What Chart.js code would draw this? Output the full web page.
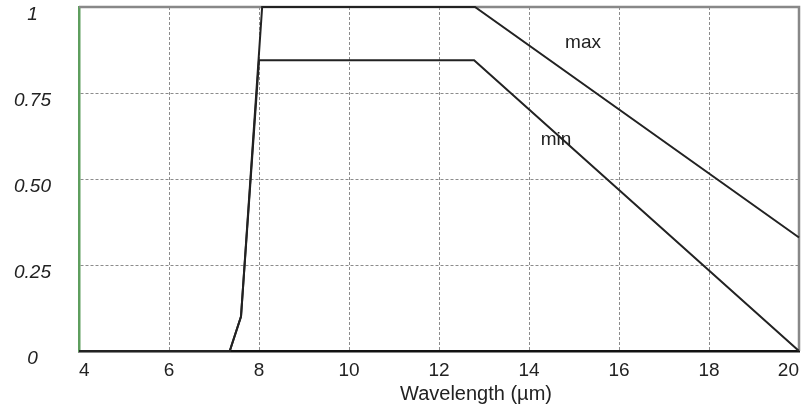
<!DOCTYPE html>
<html>
<head>
<meta charset="utf-8">
<script src="https://cdn.jsdelivr.net/npm/chart.js@4/dist/chart.umd.min.js"></script>
<style>
  html, body { margin: 0; padding: 0; background: #fff; }
  #wrap { width: 807px; height: 409px; }
</style>
</head>
<body>
<div id="wrap"><canvas id="specChart"></canvas></div>
<script>
// response curves (wavelength in µm, relative response)
const maxWave = [4, 7.35, 7.6, 8.07, 12.8, 20];
const maxResp = [0, 0, 0.1, 1, 1, 0.33];
const minWave = [4, 7.35, 7.6, 8.0, 12.78, 20];
const minResp = [0, 0, 0.1, 0.845, 0.845, 0];

const yTicks = [0, 0.25, 0.5, 0.75, 1];
const yTickText = ['0', '0.25', '0.50', '0.75', '1'];

// curve names written next to the lines
const curveNames = ['max', 'min'];
const curveNameAt = [[15.2, 0.895], [14.6, 0.613]];

const xTitle = 'Wavelength (µm)';

const TEXT = '#222';
const FONT = 'Liberation Sans, Arial, sans-serif';

function toPoints(xs, ys) {
    return xs.map((x, i) => ({ x: x, y: ys[i] }));
}

// top and right edges of the plot box, under the curves
const framePlugin = {
    id: 'frame',
    beforeDatasetsDraw(chart) {
        const { ctx, chartArea: a } = chart;
        ctx.save();
        ctx.strokeStyle = '#888';
        ctx.lineWidth = 2.5;
        ctx.beginPath();
        ctx.moveTo(a.left, a.top);
        ctx.lineTo(a.right, a.top);
        ctx.lineTo(a.right, a.bottom);
        ctx.stroke();
        ctx.restore();
    }
};

// curve names plus the x axis title (sits a bit right of centre)
const textPlugin = {
    id: 'curveNames',
    afterDatasetsDraw(chart) {
        const { ctx, scales, chartArea: a } = chart;
        ctx.save();
        ctx.fillStyle = TEXT;
        ctx.font = '19px ' + FONT;
        ctx.textAlign = 'center';
        ctx.textBaseline = 'middle';
        curveNames.forEach((name, i) => {
            const [wx, wy] = curveNameAt[i];
            ctx.fillText(name, scales.x.getPixelForValue(wx), scales.y.getPixelForValue(wy));
        });
        ctx.font = '20px ' + FONT;
        ctx.fillText(xTitle, (a.left + a.right) / 2 + 37, 394);
        ctx.restore();
    }
};

const edgeGrid = (lo, hi) => (c) =>
    (c.tick && (c.tick.value === lo || c.tick.value === hi)) ? 'rgba(0,0,0,0)' : '#8c8c8c';

new Chart(document.getElementById('specChart'), {
    type: 'line',
    data: {
        datasets: [
            {
                label: 'max',
                data: toPoints(maxWave, maxResp),
                borderColor: TEXT,
                borderWidth: 2,
                pointRadius: 0,
                tension: 0,
                clip: false
            },
            {
                label: 'min',
                data: toPoints(minWave, minResp),
                borderColor: TEXT,
                borderWidth: 2,
                pointRadius: 0,
                tension: 0,
                clip: false
            }
        ]
    },
    options: {
        responsive: true,
        maintainAspectRatio: false,
        animation: false,
        layout: { padding: { top: 7, right: 8, left: 0, bottom: 0 } },
        plugins: {
            legend: { display: false },
            tooltip: { enabled: false }
        },
        scales: {
            x: {
                type: 'linear',
                min: 4,
                max: 20,
                ticks: {
                    stepSize: 2,
                    align: 'inner',
                    padding: 8,
                    color: TEXT,
                    font: { family: FONT, size: 19 }
                },
                grid: {
                    drawTicks: false,
                    color: edgeGrid(4, 20),
                    lineWidth: 1
                },
                border: { color: '#111', width: 2.5, dash: [3, 2] },
                afterFit(scale) {
                    scale.height = 58;
                    scale.paddingLeft = 0;
                    scale.paddingRight = 0;
                }
            },
            y: {
                type: 'linear',
                min: 0,
                max: 1,
                afterBuildTicks(scale) {
                    scale.ticks = yTicks.map(v => ({ value: v }));
                },
                ticks: {
                    callback: (v) => yTickText[yTicks.indexOf(v)],
                    crossAlign: 'center',
                    padding: 28,
                    labelOffset: 8,
                    color: TEXT,
                    font: { family: FONT, size: 19, style: 'italic' }
                },
                grid: {
                    drawTicks: false,
                    color: edgeGrid(0, 1),
                    lineWidth: 1
                },
                border: { color: '#5e9e5e', width: 2.5, dash: [3, 2] },
                afterFit(scale) {
                    scale.width = 79;
                    scale.paddingTop = 0;
                    scale.paddingBottom = 0;
                }
            }
        }
    },
    plugins: [framePlugin, textPlugin]
});
</script>
</body>
</html>
